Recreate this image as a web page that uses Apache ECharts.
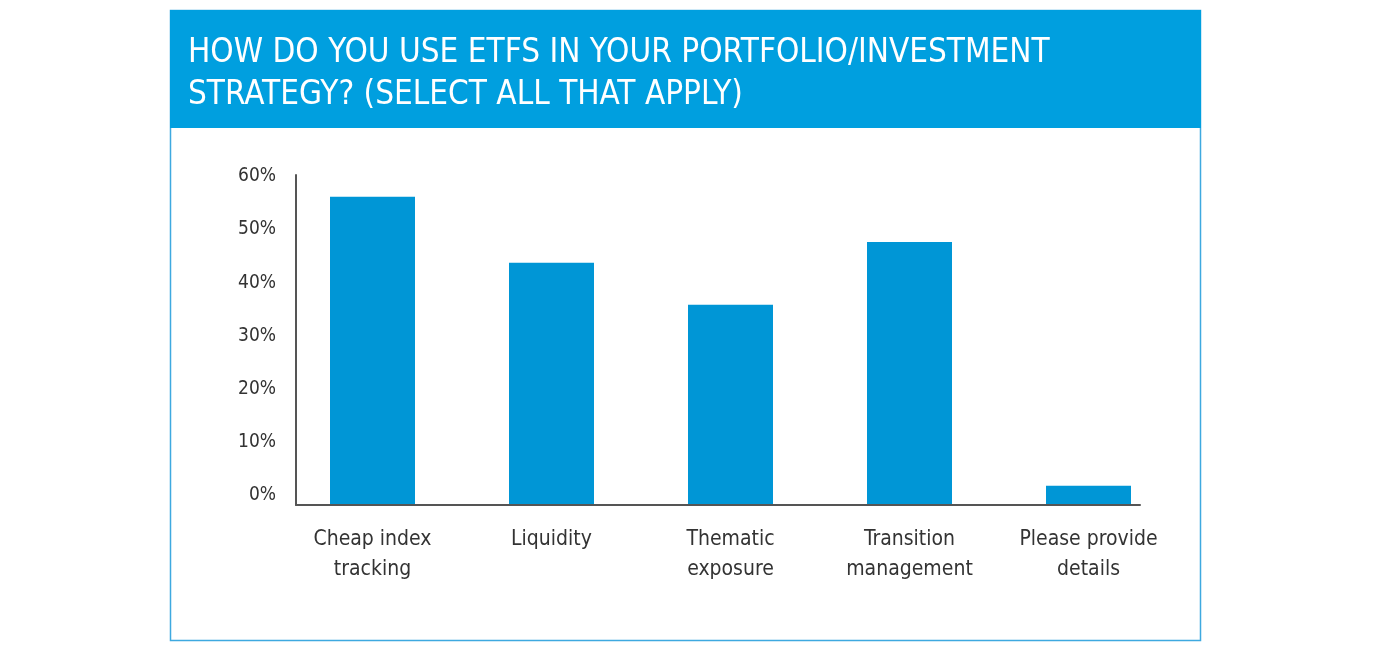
<!DOCTYPE html>
<html>
<head>
<meta charset="utf-8">
<script src="https://cdn.jsdelivr.net/npm/echarts@6/dist/echarts.min.js"></script>
<style>
  html, body { margin: 0; padding: 0; background: #ffffff; }
  #chart { width: 1380px; height: 648px; }
</style>
</head>
<body>
<div id="chart"></div>
<script>
const titleLines = ['HOW DO YOU USE ETFS IN YOUR PORTFOLIO/INVESTMENT', 'STRATEGY? (SELECT ALL THAT APPLY)'];
const categories = ['Cheap index\ntracking', 'Liquidity', 'Thematic\nexposure', 'Transition\nmanagement', 'Please provide\ndetails'];
const shares = [57.9, 45.5, 37.6, 49.4, 3.6];
const yTicks = [0, 10, 20, 30, 40, 50, 60];

const FONT = '"Liberation Sans Narrow", "DejaVu Sans Condensed", "Roboto Condensed", sans-serif';
const chart = echarts.init(document.getElementById('chart'), null, { renderer: 'canvas' });

const yMin = yTicks[0];
const yMax = 62;
const yStep = yTicks[1] - yTicks[0];

chart.setOption({
  animation: false,
  backgroundColor: '#ffffff',
  graphic: [
    { type: 'rect', shape: { x: 170.5, y: 10.5, width: 1030, height: 630 }, style: { fill: '#ffffff', stroke: '#3ea9e0', lineWidth: 1.5 }, z: -10 },
    { type: 'rect', shape: { x: 170, y: 10, width: 1031, height: 118 }, style: { fill: '#009fdf' }, z: -5 },
    { type: 'text', left: 188, top: 32, style: { text: titleLines.join('\n'), fill: '#ffffff', font: '33px ' + FONT, lineHeight: 42 } }
  ],
  grid: [
    { left: 296, right: 240, top: 175, bottom: 143 },
    { left: 283, right: 202, top: 175, bottom: 143 }
  ],
  xAxis: [
    { type: 'category', gridIndex: 0, data: categories, axisLine: { show: true, lineStyle: { color: '#555555', width: 2 } }, axisTick: { show: false }, axisLabel: { show: false }, splitLine: { show: false }, z: 10 },
    { type: 'category', gridIndex: 1, data: categories, axisLine: { show: false }, axisTick: { show: false },
      axisLabel: { margin: 20, color: '#333333', fontFamily: FONT, fontSize: 21, lineHeight: 30, interval: 0 } }
  ],
  yAxis: [
    { type: 'value', gridIndex: 0, min: yMin, max: yMax, interval: yStep,
      axisLine: { show: true, lineStyle: { color: '#555555', width: 2 } }, axisTick: { show: false }, splitLine: { show: false },
      axisLabel: { margin: 20, color: '#333333', fontFamily: FONT, fontSize: 19, verticalAlign: 'bottom', padding: [0, 0, 0, 0],
        formatter: v => (yTicks.indexOf(v) >= 0 ? v + '%' : '') }, z: 10 },
    { type: 'value', gridIndex: 1, min: yMin, max: yMax, interval: yStep, show: false }
  ],
  series: [
    { type: 'bar', xAxisIndex: 1, yAxisIndex: 1, data: shares, barWidth: 85, itemStyle: { color: '#0096d6' }, z: 2 }
  ]
});
</script>
</body>
</html>
